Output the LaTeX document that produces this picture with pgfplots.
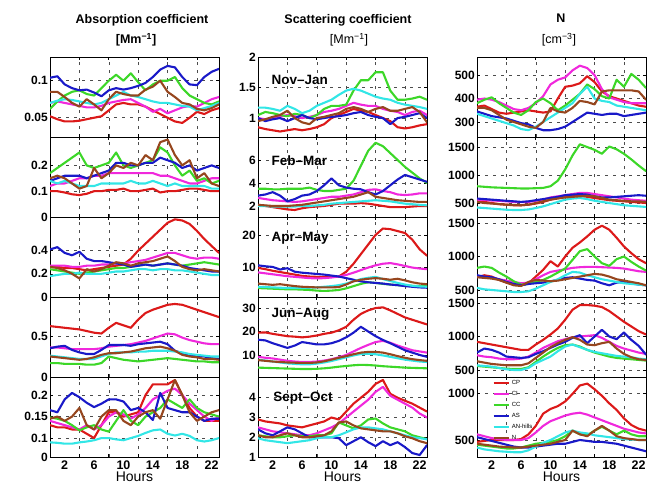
\documentclass[border=0pt]{standalone}
\usepackage{fontspec}
\setmainfont{Liberation Sans}
\usepackage{pgfplots}
\pgfplotsset{compat=1.18}
\definecolor{cCP}{RGB}{220,25,25}
\definecolor{cCI}{RGB}{240,40,220}
\definecolor{cCC}{RGB}{60,215,40}
\definecolor{cAS}{RGB}{25,25,200}
\definecolor{cAN}{RGB}{50,230,230}
\definecolor{cN}{RGB}{150,70,30}
\newcommand{\ser}[2]{\addplot[color=#1] table[header=false,x expr=\coordindex,y index=0,row sep=\\]{#2};}
\tikzset{season/.style={anchor=west, font=\bfseries\fontsize{13.5}{14}\selectfont}}
\pgfplotsset{
 panel/.style={scale only axis, width=169pt, height=80pt, xmin=0, xmax=23,
  xtick={4,8,12,16,20}, xticklabels={}, xmajorgrids, ymajorgrids,
  grid style={black!70, line width=0.5pt, dash pattern=on 3pt off 5pt},
  tick align=inside, major tick length=3pt,
  axis line style={line width=0.6pt}, tick style={black, line width=0.6pt},
  yticklabel style={font=\bfseries\fontsize{12}{12}\selectfont, inner sep=2pt},
  xticklabel style={font=\bfseries\fontsize{12.5}{13}\selectfont},
  every axis plot/.append style={line width=2.1pt, line join=round, line cap=round, no marks},
  clip=true, anchor=north west},
 bottom/.style={extra x ticks={2,6,10,14,18,22}, extra x tick labels={2,6,10,14,18,22},
  extra x tick style={grid=none, major tick length=0pt},
  xlabel={Hours}, xlabel style={font=\fontsize{14}{14}\selectfont, yshift=4pt}}
}
\begin{document}
\begin{tikzpicture}[x=1pt,y=1pt]
\useasboundingbox (0,0) rectangle (648,-493);
\node[font=\bfseries\fontsize{12.5}{14}\selectfont] at (142,-20) {Absorption coefficient};
\node[font=\bfseries\fontsize{12.5}{14}\selectfont] at (136,-40) {[Mm\textsuperscript{−1}]};
\node[font=\bfseries\fontsize{12.5}{14}\selectfont] at (348,-20) {Scattering coefficient};
\node[font=\fontsize{12.5}{14}\selectfont] at (349,-40) {[Mm\textsuperscript{−1}]};
\node[font=\bfseries\fontsize{12.5}{14}\selectfont] at (561,-18) {N};
\node[font=\fontsize{12.5}{14}\selectfont] at (559,-40) {[cm\textsuperscript{−3}]};

%================ Column 1: absorption ================
\begin{axis}[panel, at={(50pt,-57pt)}, ymin=0.024, ymax=0.132, ytick={0.05,0.1}, yticklabels={0.05,0.1}]
\ser{cCP}{0.052\\0.048\\0.045\\0.045\\0.046\\0.048\\0.05\\0.052\\0.06\\0.068\\0.07\\0.068\\0.068\\0.065\\0.06\\0.055\\0.05\\0.045\\0.043\\0.05\\0.058\\0.055\\0.06\\0.063\\}
\ser{cCI}{0.07\\0.072\\0.07\\0.068\\0.066\\0.064\\0.064\\0.066\\0.07\\0.072\\0.074\\0.075\\0.07\\0.065\\0.058\\0.062\\0.056\\0.06\\0.064\\0.066\\0.065\\0.07\\0.075\\0.078\\}
\ser{cCC}{0.062\\0.072\\0.08\\0.085\\0.087\\0.082\\0.08\\0.09\\0.1\\0.108\\0.1\\0.11\\0.098\\0.087\\0.095\\0.1\\0.1\\0.105\\0.09\\0.08\\0.075\\0.07\\0.068\\0.072\\}
\ser{cAS}{0.104\\0.106\\0.095\\0.09\\0.087\\0.088\\0.084\\0.079\\0.087\\0.09\\0.088\\0.09\\0.093\\0.097\\0.105\\0.115\\0.12\\0.118\\0.105\\0.095\\0.094\\0.105\\0.112\\0.116\\}
\ser{cAN}{0.07\\0.073\\0.075\\0.074\\0.072\\0.07\\0.068\\0.07\\0.075\\0.08\\0.085\\0.08\\0.078\\0.075\\0.072\\0.07\\0.07\\0.068\\0.066\\0.065\\0.06\\0.063\\0.066\\0.07\\}
\ser{cN}{0.085\\0.085\\0.078\\0.07\\0.065\\0.075\\0.068\\0.06\\0.075\\0.085\\0.082\\0.08\\0.08\\0.088\\0.092\\0.1\\0.085\\0.078\\0.07\\0.068\\0.062\\0.06\\0.063\\0.068\\}
\end{axis}
\begin{axis}[panel, at={(50pt,-137pt)}, ymin=0, ymax=0.31, ytick={0,0.1,0.2}, yticklabels={0,0.1,0.2}]
\ser{cCP}{0.1\\0.1\\0.095\\0.088\\0.085\\0.09\\0.1\\0.1\\0.105\\0.105\\0.11\\0.1\\0.1\\0.105\\0.11\\0.095\\0.1\\0.1\\0.105\\0.11\\0.11\\0.105\\0.1\\0.1\\}
\ser{cCI}{0.12\\0.13\\0.13\\0.14\\0.15\\0.15\\0.16\\0.16\\0.17\\0.17\\0.17\\0.17\\0.17\\0.17\\0.17\\0.16\\0.16\\0.15\\0.14\\0.13\\0.13\\0.14\\0.15\\0.15\\}
\ser{cCC}{0.17\\0.19\\0.21\\0.23\\0.25\\0.2\\0.19\\0.2\\0.21\\0.25\\0.2\\0.19\\0.2\\0.21\\0.22\\0.27\\0.25\\0.2\\0.16\\0.18\\0.14\\0.15\\0.13\\0.14\\}
\ser{cAS}{0.14\\0.15\\0.16\\0.16\\0.16\\0.15\\0.16\\0.17\\0.18\\0.21\\0.21\\0.2\\0.2\\0.21\\0.21\\0.23\\0.22\\0.21\\0.19\\0.2\\0.18\\0.19\\0.2\\0.19\\}
\ser{cAN}{0.14\\0.13\\0.14\\0.13\\0.12\\0.12\\0.12\\0.13\\0.13\\0.13\\0.13\\0.14\\0.13\\0.13\\0.14\\0.13\\0.12\\0.13\\0.12\\0.12\\0.12\\0.12\\0.11\\0.11\\}
\ser{cN}{0.15\\0.16\\0.15\\0.13\\0.11\\0.12\\0.19\\0.15\\0.17\\0.2\\0.19\\0.21\\0.2\\0.24\\0.22\\0.29\\0.3\\0.24\\0.2\\0.22\\0.15\\0.17\\0.13\\0.12\\}
\end{axis}
\begin{axis}[panel, at={(50pt,-217pt)}, ymin=0, ymax=0.69, ytick={0,0.2,0.4}, yticklabels={0,0.2,0.4}]
\ser{cCP}{0.26\\0.26\\0.25\\0.25\\0.24\\0.23\\0.24\\0.25\\0.26\\0.27\\0.28\\0.33\\0.4\\0.46\\0.52\\0.58\\0.64\\0.67\\0.66\\0.63\\0.57\\0.5\\0.44\\0.38\\}
\ser{cCI}{0.27\\0.27\\0.27\\0.26\\0.26\\0.27\\0.27\\0.28\\0.28\\0.29\\0.29\\0.3\\0.31\\0.32\\0.34\\0.36\\0.38\\0.38\\0.36\\0.34\\0.33\\0.34\\0.34\\0.33\\}
\ser{cCC}{0.24\\0.23\\0.22\\0.21\\0.2\\0.21\\0.22\\0.23\\0.24\\0.25\\0.25\\0.26\\0.27\\0.28\\0.27\\0.28\\0.29\\0.28\\0.27\\0.28\\0.29\\0.3\\0.29\\0.28\\}
\ser{cAS}{0.41\\0.43\\0.38\\0.36\\0.39\\0.33\\0.31\\0.31\\0.3\\0.29\\0.28\\0.26\\0.27\\0.28\\0.27\\0.28\\0.29\\0.28\\0.27\\0.25\\0.24\\0.23\\0.22\\0.22\\}
\ser{cAN}{0.18\\0.19\\0.2\\0.2\\0.21\\0.2\\0.2\\0.2\\0.21\\0.22\\0.22\\0.23\\0.24\\0.24\\0.23\\0.24\\0.24\\0.23\\0.23\\0.22\\0.21\\0.2\\0.19\\0.19\\}
\ser{cN}{0.26\\0.25\\0.23\\0.2\\0.16\\0.24\\0.22\\0.24\\0.27\\0.3\\0.29\\0.27\\0.29\\0.3\\0.31\\0.33\\0.35\\0.31\\0.26\\0.24\\0.23\\0.24\\0.23\\0.22\\}
\end{axis}
\begin{axis}[panel, at={(50pt,-297pt)}, ymin=0, ymax=0.975, ytick={0,0.5}, yticklabels={0,0.5}]
\ser{cCP}{0.62\\0.61\\0.6\\0.59\\0.58\\0.56\\0.54\\0.53\\0.6\\0.66\\0.63\\0.6\\0.7\\0.78\\0.82\\0.85\\0.88\\0.89\\0.88\\0.85\\0.82\\0.79\\0.76\\0.73\\}
\ser{cCI}{0.36\\0.36\\0.35\\0.34\\0.34\\0.34\\0.34\\0.35\\0.37\\0.38\\0.39\\0.4\\0.42\\0.44\\0.47\\0.5\\0.53\\0.52\\0.48\\0.45\\0.43\\0.41\\0.4\\0.4\\}
\ser{cCC}{0.17\\0.17\\0.16\\0.16\\0.16\\0.15\\0.15\\0.17\\0.25\\0.23\\0.21\\0.2\\0.19\\0.2\\0.21\\0.22\\0.23\\0.22\\0.21\\0.2\\0.19\\0.19\\0.18\\0.18\\}
\ser{cAS}{0.35\\0.37\\0.38\\0.33\\0.3\\0.28\\0.28\\0.33\\0.39\\0.39\\0.39\\0.38\\0.4\\0.41\\0.42\\0.43\\0.4\\0.32\\0.29\\0.27\\0.26\\0.25\\0.23\\0.22\\}
\ser{cAN}{0.26\\0.25\\0.24\\0.23\\0.22\\0.22\\0.22\\0.25\\0.28\\0.3\\0.3\\0.3\\0.31\\0.31\\0.32\\0.32\\0.32\\0.31\\0.3\\0.28\\0.27\\0.26\\0.25\\0.25\\}
\ser{cN}{0.25\\0.24\\0.23\\0.22\\0.21\\0.22\\0.24\\0.27\\0.29\\0.29\\0.3\\0.31\\0.33\\0.35\\0.36\\0.37\\0.35\\0.32\\0.27\\0.25\\0.24\\0.22\\0.22\\0.21\\}
\end{axis}
\begin{axis}[panel, bottom, at={(50pt,-377pt)}, ymin=0.056, ymax=0.242, ytick={0.056,0.1,0.15,0.2}, yticklabels={0,0.1,0.15,0.2}]
\ser{cCP}{0.13\\0.125\\0.125\\0.12\\0.12\\0.11\\0.1\\0.13\\0.16\\0.16\\0.15\\0.155\\0.16\\0.2\\0.225\\0.225\\0.225\\0.235\\0.2\\0.17\\0.15\\0.14\\0.14\\0.14\\}
\ser{cCI}{0.14\\0.135\\0.13\\0.125\\0.12\\0.13\\0.12\\0.13\\0.15\\0.16\\0.155\\0.145\\0.155\\0.17\\0.19\\0.2\\0.21\\0.215\\0.2\\0.18\\0.165\\0.15\\0.14\\0.15\\}
\ser{cCC}{0.148\\0.145\\0.14\\0.13\\0.118\\0.125\\0.13\\0.12\\0.115\\0.14\\0.165\\0.14\\0.13\\0.15\\0.16\\0.17\\0.19\\0.18\\0.17\\0.19\\0.17\\0.16\\0.155\\0.15\\}
\ser{cAS}{0.165\\0.16\\0.19\\0.205\\0.195\\0.182\\0.172\\0.18\\0.19\\0.19\\0.185\\0.165\\0.17\\0.16\\0.142\\0.205\\0.17\\0.165\\0.16\\0.16\\0.15\\0.14\\0.145\\0.145\\}
\ser{cAN}{0.09\\0.089\\0.087\\0.087\\0.09\\0.092\\0.095\\0.1\\0.1\\0.097\\0.095\\0.1\\0.105\\0.112\\0.118\\0.12\\0.11\\0.106\\0.11\\0.105\\0.095\\0.092\\0.095\\0.1\\}
\ser{cN}{0.145\\0.15\\0.14\\0.15\\0.17\\0.13\\0.12\\0.15\\0.165\\0.165\\0.14\\0.13\\0.15\\0.16\\0.165\\0.145\\0.19\\0.235\\0.2\\0.16\\0.14\\0.15\\0.16\\0.165\\}
\end{axis}

%================ Column 2: scattering ================
\begin{axis}[panel, at={(258pt,-57pt)}, ymin=0.69, ymax=2, ytick={1,1.5,2}, yticklabels={1,1.5,2}]
\ser{cCP}{0.85\\0.82\\0.8\\0.78\\0.8\\0.82\\0.8\\0.82\\0.85\\0.9\\1.0\\1.05\\1.1\\1.15\\1.12\\1.1\\1.05\\1.0\\0.95\\0.85\\0.83\\0.85\\0.88\\0.9\\}
\ser{cCI}{1.0\\0.98\\1.0\\1.02\\1.05\\1.03\\1.0\\1.02\\1.05\\1.1\\1.12\\1.15\\1.2\\1.25\\1.22\\1.2\\1.2\\1.15\\1.12\\1.1\\1.05\\1.1\\1.12\\1.05\\}
\ser{cCC}{1.05\\1.1\\1.08\\1.05\\1.03\\1.07\\1.05\\1.0\\1.05\\1.15\\1.2\\1.2\\1.22\\1.45\\1.62\\1.62\\1.75\\1.75\\1.45\\1.3\\1.3\\1.32\\1.35\\1.3\\}
\ser{cAS}{1.0\\0.95\\0.98\\1.0\\0.95\\1.0\\1.05\\1.0\\0.98\\1.0\\1.02\\1.03\\1.05\\1.08\\1.1\\1.05\\1.02\\1.0\\0.9\\1.0\\1.02\\1.05\\1.08\\1.0\\}
\ser{cAN}{1.17\\1.17\\1.15\\1.12\\1.2\\1.15\\1.08\\1.12\\1.2\\1.25\\1.3\\1.38\\1.45\\1.48\\1.45\\1.4\\1.35\\1.32\\1.3\\1.25\\1.22\\1.2\\1.18\\1.15\\}
\ser{cN}{0.95\\0.98\\1.02\\1.05\\1.12\\1.0\\0.93\\0.9\\1.0\\1.02\\1.05\\1.08\\1.15\\1.18\\1.15\\1.1\\1.15\\1.18\\1.12\\1.12\\1.15\\1.18\\1.1\\0.93\\}
\node[season] at (rel axis cs:0.06,0.71) {Nov–Jan};
\end{axis}
\begin{axis}[panel, at={(258pt,-137pt)}, ymin=1.04, ymax=8, ytick={2,4,6}, yticklabels={2,4,6}]
\ser{cCP}{2.1\\2.0\\1.9\\1.8\\1.7\\1.65\\1.8\\1.9\\1.95\\2.0\\2.1\\2.2\\2.2\\2.2\\2.25\\2.2\\2.1\\2.0\\1.9\\1.9\\1.9\\1.95\\2.0\\2.0\\}
\ser{cCI}{2.7\\2.6\\2.5\\2.45\\2.4\\2.35\\2.4\\2.5\\2.6\\2.7\\2.8\\2.8\\2.9\\3.0\\3.2\\3.4\\3.45\\3.3\\3.2\\3.0\\2.95\\3.0\\3.1\\3.1\\}
\ser{cCC}{3.5\\3.5\\3.45\\3.45\\3.5\\3.5\\3.5\\3.6\\3.4\\3.3\\3.3\\3.4\\3.5\\4.2\\5.5\\6.8\\7.5\\7.2\\6.6\\6.0\\5.4\\4.9\\4.4\\4.0\\}
\ser{cAS}{2.9\\3.0\\3.2\\2.9\\2.4\\2.6\\2.9\\3.0\\3.3\\3.8\\4.4\\3.8\\3.6\\3.5\\3.45\\3.2\\3.0\\3.3\\3.8\\4.3\\4.7\\4.5\\4.3\\4.1\\}
\ser{cAN}{2.0\\2.0\\1.95\\1.95\\1.95\\1.95\\2.0\\2.0\\2.05\\2.1\\2.2\\2.25\\2.3\\2.35\\2.4\\2.45\\2.5\\2.45\\2.4\\2.3\\2.2\\2.15\\2.1\\2.05\\}
\ser{cN}{2.1\\2.05\\2.0\\2.0\\2.0\\2.05\\2.1\\2.2\\2.3\\2.4\\2.5\\2.6\\2.7\\2.8\\3.0\\3.2\\2.8\\2.7\\2.6\\2.5\\2.45\\2.4\\2.35\\2.35\\}
\node[season] at (rel axis cs:0.06,0.71) {Feb–Mar};
\end{axis}
\begin{axis}[panel, at={(258pt,-217pt)}, ymin=0.6, ymax=25.6, ytick={10,20}, yticklabels={10,20}]
\ser{cCP}{9.7\\9.3\\8.8\\8.4\\8.0\\7.6\\7.2\\7.0\\6.9\\6.9\\6.9\\7.0\\8.5\\11\\14\\17\\20\\22\\21.8\\21.2\\20.6\\18.5\\15.5\\13.5\\}
\ser{cCI}{8.3\\8.0\\7.7\\7.4\\7.1\\6.9\\6.7\\6.5\\6.4\\6.5\\6.7\\7.0\\7.5\\8.2\\9.0\\9.8\\10.5\\11\\11.2\\10.8\\10.3\\9.8\\9.5\\9.3\\}
\ser{cCC}{3.4\\3.3\\3.2\\3.1\\3.0\\3.0\\2.9\\2.8\\2.6\\2.5\\2.6\\2.8\\3.3\\4.0\\4.7\\5.2\\5.0\\4.7\\4.5\\4.3\\4.2\\4.1\\4.0\\4.0\\}
\ser{cAS}{10.5\\10.2\\10\\9.2\\9.6\\8.5\\8.2\\8.0\\7.8\\7.6\\7.3\\7.0\\6.5\\6.0\\5.5\\5.2\\5.0\\4.8\\4.5\\4.3\\4.0\\3.8\\3.6\\3.5\\}
\ser{cAN}{3.8\\3.7\\3.6\\3.5\\3.4\\3.4\\3.4\\3.5\\3.6\\3.8\\4.0\\4.3\\4.8\\5.5\\6.2\\6.6\\6.9\\6.2\\5.6\\5.0\\4.5\\4.1\\3.9\\3.8\\}
\ser{cN}{4.8\\4.6\\4.4\\4.6\\4.3\\4.0\\3.8\\3.7\\3.6\\3.6\\3.6\\3.7\\4.5\\5.5\\6.0\\6.3\\6.5\\6.3\\6.0\\6.3\\5.8\\5.2\\4.8\\4.6\\}
\node[season] at (rel axis cs:0.06,0.74) {Apr–May};
\end{axis}
\begin{axis}[panel, at={(258pt,-297pt)}, ymin=0.6, ymax=34.7, ytick={10,20,30}, yticklabels={10,20,30}]
\ser{cCP}{19.5\\19.6\\19\\18.5\\18\\17.8\\17.5\\17.8\\18.3\\19\\19.5\\20.5\\22\\25\\27.5\\29\\30\\30.3\\29\\27.5\\26\\25\\24\\23\\}
\ser{cCI}{9.2\\8.8\\8.5\\8.0\\7.5\\7.2\\7.0\\7.0\\7.2\\7.6\\8.2\\9\\10\\11.5\\13\\14.3\\15.5\\16\\15.2\\14\\13\\12\\11.5\\11\\}
\ser{cCC}{4.6\\4.5\\4.4\\4.3\\4.2\\4.1\\4.0\\4.0\\4.1\\4.3\\4.6\\5.0\\5.3\\5.6\\5.8\\5.7\\5.5\\5.2\\5.0\\4.8\\4.6\\4.5\\4.4\\4.3\\}
\ser{cAS}{16.5\\16.2\\15\\14\\13\\14\\15.5\\15\\14.5\\14.5\\15\\16\\17.5\\19.5\\22\\20\\18\\16.4\\15\\13.5\\12\\11\\10\\9.2\\}
\ser{cAN}{8.0\\7.6\\7.2\\6.8\\6.4\\6.2\\6.0\\6.0\\6.3\\6.8\\7.4\\8.2\\9\\9.8\\10.4\\10.5\\10.3\\9.8\\9.2\\8.6\\8.0\\7.6\\7.2\\7.0\\}
\ser{cN}{7.8\\7.5\\7.2\\7.0\\6.8\\6.7\\6.6\\6.6\\6.8\\7.3\\8\\8.8\\9.5\\10.3\\11\\11.3\\11.3\\11\\10.3\\9.5\\8.8\\8.2\\7.8\\7.5\\}
\node[season] at (rel axis cs:0.06,0.79) {Jun–Aug};
\end{axis}
\begin{axis}[panel, bottom, at={(258pt,-377pt)}, ymin=1, ymax=5.05, ytick={1,2,3,4}, yticklabels={1,2,3,4}]
\ser{cCP}{2.9\\2.8\\2.75\\2.7\\2.6\\2.55\\2.5\\2.6\\2.7\\2.8\\3.0\\2.9\\3.3\\3.7\\4.0\\4.3\\4.7\\4.9\\4.2\\4.0\\3.85\\3.7\\3.5\\3.3\\}
\ser{cCI}{2.5\\2.4\\2.3\\2.25\\2.2\\2.15\\2.1\\2.1\\2.2\\2.35\\2.5\\2.7\\3.0\\3.3\\3.6\\3.9\\4.3\\4.55\\4.1\\3.9\\3.7\\3.5\\3.2\\3.0\\}
\ser{cCC}{2.1\\2.05\\2.0\\2.0\\2.05\\2.1\\2.05\\2.05\\2.1\\2.1\\2.2\\2.75\\2.6\\2.45\\2.6\\2.9\\2.95\\2.7\\2.5\\2.4\\2.3\\2.1\\2.0\\1.9\\}
\ser{cAS}{2.4\\2.2\\2.1\\2.3\\2.5\\2.4\\2.2\\2.0\\2.0\\2.0\\2.0\\1.95\\1.6\\1.8\\2.0\\1.75\\1.55\\1.8\\1.6\\1.75\\1.5\\1.2\\1.1\\1.6\\}
\ser{cAN}{1.95\\1.85\\1.8\\1.75\\1.7\\1.75\\1.8\\1.85\\1.95\\2.0\\2.0\\2.1\\2.25\\2.4\\2.5\\2.5\\2.45\\2.4\\2.3\\2.2\\2.1\\2.0\\1.95\\1.9\\}
\ser{cN}{2.1\\2.0\\2.0\\2.1\\2.2\\2.1\\2.0\\2.0\\2.05\\2.1\\2.3\\2.75\\2.8\\2.6\\2.45\\2.4\\2.35\\2.3\\2.3\\2.2\\2.05\\1.95\\1.8\\1.7\\}
\node[season] at (rel axis cs:0.07,0.74) {Sept–Oct};
\end{axis}

%================ Column 3: N ================
\begin{axis}[panel, at={(477pt,-57pt)}, ymin=236, ymax=577, ytick={300,400,500}, yticklabels={300,400,500}]
\ser{cCP}{365\\370\\355\\340\\335\\340\\345\\350\\345\\340\\345\\400\\450\\455\\465\\495\\470\\430\\410\\400\\390\\380\\370\\365\\}
\ser{cCI}{395\\400\\395\\385\\370\\355\\350\\360\\380\\410\\460\\480\\490\\520\\540\\530\\500\\440\\405\\395\\385\\380\\380\\380\\}
\ser{cCC}{380\\395\\405\\380\\360\\340\\330\\350\\385\\400\\380\\350\\370\\395\\420\\460\\440\\410\\400\\480\\450\\505\\480\\445\\}
\ser{cAS}{345\\335\\325\\320\\315\\305\\295\\290\\275\\265\\265\\270\\280\\300\\320\\340\\335\\330\\335\\335\\325\\330\\335\\340\\}
\ser{cAN}{335\\325\\315\\305\\295\\285\\270\\265\\280\\300\\320\\340\\360\\380\\420\\450\\400\\390\\385\\370\\365\\360\\355\\350\\}
\ser{cN}{360\\360\\350\\330\\310\\300\\290\\280\\275\\300\\360\\345\\340\\360\\390\\385\\375\\430\\435\\435\\435\\435\\430\\395\\}
\end{axis}
\begin{axis}[panel, at={(477pt,-137pt)}, ymin=250, ymax=1680, ytick={500,1000,1500}, yticklabels={500,1000,1500}]
\ser{cCP}{540\\520\\500\\480\\470\\460\\460\\470\\490\\520\\560\\590\\610\\630\\630\\610\\590\\570\\550\\540\\530\\520\\510\\500\\}
\ser{cCI}{560\\555\\545\\540\\530\\520\\515\\520\\540\\560\\600\\620\\640\\660\\680\\680\\660\\640\\620\\600\\580\\560\\550\\540\\}
\ser{cCC}{800\\790\\780\\775\\770\\765\\760\\760\\765\\770\\800\\900\\1100\\1350\\1550\\1500\\1450\\1380\\1510\\1460\\1380\\1280\\1170\\1070\\}
\ser{cAS}{580\\570\\560\\550\\540\\530\\520\\530\\550\\570\\590\\610\\640\\650\\660\\650\\620\\600\\600\\610\\620\\630\\640\\630\\}
\ser{cAN}{420\\410\\400\\390\\380\\375\\375\\385\\410\\440\\480\\520\\560\\580\\590\\570\\540\\520\\500\\480\\460\\450\\440\\430\\}
\ser{cN}{520\\500\\490\\480\\470\\465\\460\\470\\500\\530\\560\\580\\600\\610\\620\\630\\620\\590\\560\\550\\540\\530\\530\\520\\}
\end{axis}
\begin{axis}[panel, at={(477pt,-217pt)}, ymin=395, ymax=1590, ytick={500,1000,1500}, yticklabels={500,1000,1500}]
\ser{cCP}{690\\720\\700\\650\\610\\580\\570\\600\\700\\800\\930\\850\\1000\\1130\\1210\\1300\\1400\\1460\\1400\\1280\\1150\\1050\\960\\900\\}
\ser{cCI}{700\\690\\680\\660\\640\\620\\600\\610\\660\\720\\770\\790\\810\\830\\840\\845\\845\\840\\835\\830\\820\\800\\780\\770\\}
\ser{cCC}{830\\850\\830\\760\\700\\630\\580\\590\\620\\650\\700\\760\\820\\950\\1080\\1110\\1000\\900\\860\\960\\1000\\920\\850\\790\\}
\ser{cAS}{720\\700\\690\\660\\620\\590\\570\\590\\600\\610\\630\\650\\680\\690\\670\\650\\640\\600\\570\\610\\620\\600\\580\\570\\}
\ser{cAN}{530\\510\\500\\490\\480\\470\\470\\480\\520\\570\\620\\660\\720\\770\\760\\720\\690\\660\\640\\620\\600\\590\\580\\570\\}
\ser{cN}{690\\680\\670\\650\\610\\570\\560\\620\\650\\640\\630\\640\\660\\680\\700\\720\\740\\730\\700\\660\\640\\620\\600\\570\\}
\end{axis}
\begin{axis}[panel, at={(477pt,-297pt)}, ymin=395, ymax=1590, ytick={500,1000,1500}, yticklabels={500,1000,1500}]
\ser{cCP}{920\\900\\880\\860\\840\\820\\800\\800\\880\\950\\1030\\1120\\1250\\1400\\1470\\1470\\1460\\1440\\1380\\1300\\1220\\1150\\1080\\1030\\}
\ser{cCI}{720\\700\\690\\670\\660\\660\\670\\700\\760\\830\\880\\930\\960\\990\\1000\\1010\\1020\\980\\920\\860\\820\\790\\760\\740\\}
\ser{cCC}{560\\550\\540\\530\\520\\515\\515\\540\\620\\700\\770\\830\\870\\880\\850\\800\\760\\730\\700\\680\\670\\660\\650\\640\\}
\ser{cAS}{760\\820\\800\\760\\700\\690\\680\\690\\740\\780\\830\\880\\920\\980\\1020\\900\\1000\\1100\\1000\\960\\1060\\950\\860\\730\\}
\ser{cAN}{570\\560\\550\\530\\510\\500\\500\\530\\600\\650\\700\\780\\850\\880\\840\\800\\770\\750\\730\\710\\700\\690\\670\\660\\}
\ser{cN}{630\\610\\590\\580\\570\\570\\570\\600\\680\\760\\840\\900\\950\\990\\950\\880\\870\\900\\920\\820\\740\\690\\660\\650\\}
\end{axis}
\begin{axis}[panel, bottom, at={(477pt,-377pt)}, ymin=319, ymax=1170, ytick={500,1000}, yticklabels={500,1000},
  legend style={at={(rel axis cs:0.09,0.985)}, anchor=north west, draw=none, fill=none,
   font=\fontsize{6}{6}\selectfont, inner sep=0pt, row sep=1.2pt},
  legend cell align=left,
  legend image code/.code={\draw[#1, line width=2.4pt, line cap=butt] (0pt,0pt) -- (15pt,0pt);}]
\ser{cCP}{480\\490\\500\\500\\500\\500\\510\\560\\650\\780\\830\\860\\910\\990\\1080\\1100\\1040\\970\\890\\820\\730\\660\\620\\600\\}
\ser{cCI}{560\\540\\520\\510\\500\\500\\500\\520\\580\\650\\700\\730\\760\\780\\790\\770\\740\\710\\680\\650\\620\\600\\580\\570\\}
\ser{cCC}{450\\440\\430\\420\\410\\410\\420\\440\\460\\470\\480\\500\\540\\600\\560\\550\\600\\640\\600\\560\\600\\560\\540\\540\\}
\ser{cAS}{530\\510\\490\\470\\450\\430\\420\\420\\430\\440\\450\\460\\460\\480\\500\\490\\480\\480\\470\\460\\440\\420\\400\\380\\}
\ser{cAN}{420\\400\\390\\380\\375\\370\\370\\390\\430\\470\\500\\540\\580\\600\\580\\570\\550\\540\\530\\520\\510\\505\\500\\500\\}
\ser{cN}{460\\450\\440\\430\\425\\420\\420\\430\\440\\450\\460\\480\\500\\600\\560\\540\\600\\650\\600\\540\\520\\510\\500\\500\\}
\legend{CP,CI,CC,AS,AN-hills,N}
\end{axis}
\end{tikzpicture}
\end{document}
